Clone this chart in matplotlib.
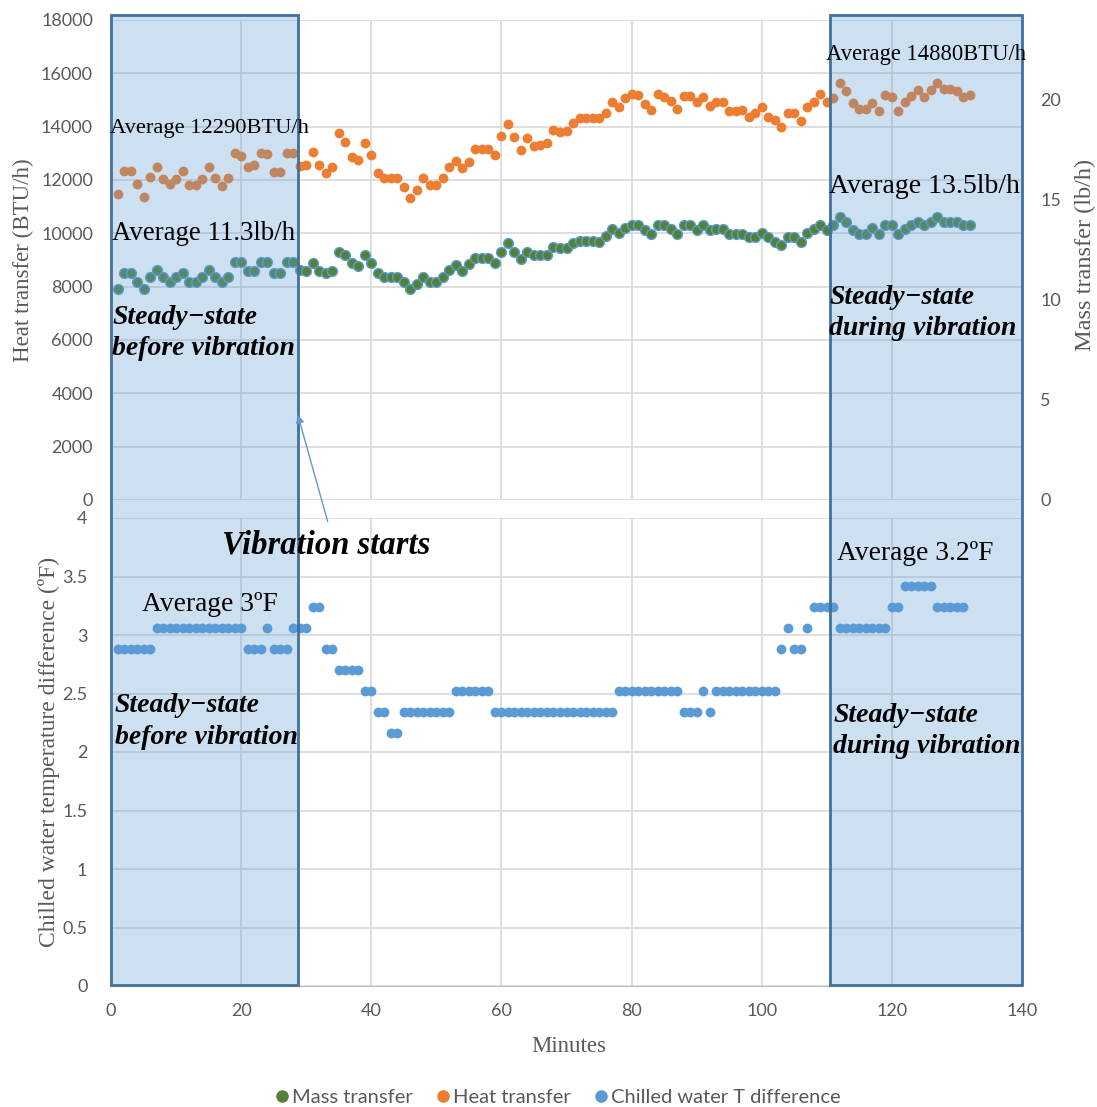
import numpy as np
import matplotlib
matplotlib.use('Agg')
import matplotlib.pyplot as plt
from matplotlib.patches import Rectangle, ConnectionPatch
from matplotlib.transforms import blended_transform_factory
from matplotlib.lines import Line2D

# Данные
heat = [11460, 12340, 12340, 11850, 11370, 12120, 12500, 12040, 11850, 12030,
        12350, 11800, 11800, 12050, 12500, 12060, 11780, 12060, 13020, 12900,
        12470, 12560, 13020, 12960, 12290, 12290, 13020, 13010, 12520, 12550,
        13060, 12550, 12250, 12500, 13750, 13440, 12870, 12750, 13400, 12940,
        12250, 12060, 12080, 12080, 11750, 11340, 11630, 12080, 11810, 11810,
        12080, 12470, 12710, 12440, 12660, 13150, 13150, 13150, 12950, 13650,
        14090, 13600, 13120, 13560, 13260, 13330, 13400, 13870, 13810, 13840,
        14130, 14310, 14310, 14310, 14310, 14510, 14940, 14720, 15080, 15220,
        15170, 14860, 14640, 15220, 15110, 14950, 14650, 15150, 15150, 14940,
        15120, 14790, 14940, 14940, 14580, 14580, 14640, 14380, 14530, 14720,
        14370, 14250, 13970, 14530, 14530, 14220, 14720, 14940, 15220, 14940,
        15060, 15620, 15350, 14900, 14650, 14650, 14870, 14600, 15190, 15120,
        14600, 14940, 15150, 15370, 15100, 15370, 15650, 15400, 15400, 15350,
        15100, 15190]

mass = [10.55, 11.33, 11.33, 10.92, 10.55, 11.17, 11.5, 11.17, 10.92, 11.17,
        11.37, 10.92, 10.92, 11.17, 11.5, 11.17, 10.92, 11.17, 11.92, 11.92,
        11.47, 11.47, 11.92, 11.92, 11.33, 11.33, 11.92, 11.92, 11.5, 11.47,
        11.83, 11.47, 11.33, 11.47, 12.42, 12.25, 11.83, 11.7, 12.25, 11.83,
        11.33, 11.13, 11.17, 11.17, 10.92, 10.53, 10.8, 11.17, 10.92, 10.92,
        11.17, 11.5, 11.75, 11.47, 11.78, 12.08, 12.08, 12.08, 11.83, 12.42,
        12.83, 12.42, 12.03, 12.42, 12.25, 12.25, 12.25, 12.63, 12.6, 12.6,
        12.87, 12.97, 12.97, 12.97, 12.92, 13.2, 13.53, 13.33, 13.58, 13.75,
        13.75, 13.5, 13.3, 13.75, 13.75, 13.53, 13.3, 13.75, 13.75, 13.5,
        13.75, 13.5, 13.53, 13.53, 13.3, 13.3, 13.3, 13.13, 13.13, 13.33,
        13.17, 12.92, 12.75, 13.17, 13.17, 12.92, 13.33, 13.53, 13.75, 13.5,
        13.75, 14.17, 13.92, 13.5, 13.3, 13.3, 13.58, 13.3, 13.75, 13.75,
        13.3, 13.55, 13.75, 13.92, 13.75, 13.92, 14.17, 13.92, 13.92, 13.88,
        13.75, 13.75]

chilled_dt = ([2.88] * 6 + [3.06] * 14 + [2.88] * 3 + [3.06] + [2.88] * 3 +
              [3.06] * 3 + [3.24] * 2 + [2.88] * 2 + [2.70] * 4 + [2.52] * 2 +
              [2.34] * 2 + [2.16] * 2 + [2.34] * 8 + [2.52] * 6 + [2.34] * 19 +
              [2.52] * 10 + [2.34] * 3 + [2.52] + [2.34] + [2.52] * 10 +
              [2.88] + [3.06] + [2.88] * 2 + [3.06] + [3.24] * 4 + [3.06] * 8 +
              [3.24] * 2 + [3.42] * 5 + [3.24] * 5)

t_heat = np.arange(1, len(heat) + 1)
t_dt = np.arange(1, len(chilled_dt) + 1)

# интервалы установившегося режима (минуты)
steady_before = (0, 28.7)
steady_during = (110.5, 140)
vib_start = 28.7

c_green = '#548235'
c_orange = '#ED7D31'
c_blue = '#5B9BD5'
c_text = '#595959'
c_grid = '#d9d9d9'
serif = 'Liberation Serif'
sans = 'Lato'

W, H = 1097, 1107
fig = plt.figure(figsize=(W / 100, H / 100), dpi=100)
ax1 = fig.add_axes([111 / W, 1 - 500 / H, 911 / W, 480 / H])
ax2 = fig.add_axes([111 / W, 1 - 986 / H, 911 / W, 468 / H])
ax1b = ax1.twinx()

ms = 50
ax1.scatter(t_heat, heat, s=ms, color=c_orange, zorder=3, linewidths=0)
ax1b.scatter(t_heat, mass, s=ms, color=c_green, edgecolors=c_blue,
             linewidths=1.0, zorder=3)
ax2.scatter(t_dt, chilled_dt, s=ms, color=c_blue, zorder=3, linewidths=0)

# оси
ax1.set_xlim(0, 140)
ax1.set_ylim(0, 18000)
ax1.set_yticks(np.arange(0, 18001, 2000))
ax1b.set_ylim(0, 24)
ax1b.set_yticks([0, 5, 10, 15, 20])
ax2.set_xlim(0, 140)
ax2.set_ylim(0, 4)
ax2.set_yticks(np.arange(0, 4.01, 0.5))
ax2.set_yticklabels(['0', '0.5', '1', '1.5', '2', '2.5', '3', '3.5', '4'])
ax2.set_xticks(np.arange(0, 141, 20))
ax1.set_xticks(np.arange(0, 141, 20))
ax1.tick_params(axis='x', labelbottom=False, length=0)

for a in (ax1, ax1b, ax2):
    for s in a.spines.values():
        s.set_visible(False)
    a.tick_params(length=0, colors=c_text, labelsize=13, pad=13)
    for lab in a.get_xticklabels() + a.get_yticklabels():
        lab.set_family(sans)
ax2.spines['bottom'].set_visible(True)
ax2.spines['bottom'].set_color('#bfbfbf')
ax2.tick_params(axis='y', pad=17)
ax2.tick_params(axis='x', pad=12)

for a in (ax1, ax2):
    a.grid(True, color=c_grid, linewidth=1.2)
    a.set_axisbelow(True)

ax1.set_ylabel('Heat transfer (BTU/h)', family=serif, fontsize=16.5, color=c_text)
ax1.yaxis.set_label_coords(-0.085, 0.5)
ax1b.set_ylabel('Mass transfer (lb/h)', family=serif, fontsize=17.5, color=c_text,
                rotation=90)
ax1b.yaxis.set_label_coords(1.058, 0.51)
ax2.set_ylabel('Chilled water temperature difference (ºF)', family=serif,
               fontsize=17, color=c_text)
ax2.yaxis.set_label_coords(-0.056, 0.5)
ax2.set_xlabel('Minutes', family=serif, fontsize=16.5, color=c_text)
ax2.xaxis.set_label_coords(0.502, -0.106)

# заштрихованные области поверх графиков
tr = blended_transform_factory(ax2.transData, fig.transFigure)
y0, y1 = 1 - 985 / H, 1 - 15 / H
for x0, x1 in (steady_before, steady_during):
    fig.add_artist(Rectangle((x0, y0), x1 - x0, y1 - y0, transform=tr,
                             facecolor=c_blue, alpha=0.3, edgecolor='none',
                             zorder=5))
    fig.add_artist(Rectangle((x0, y0), x1 - x0, y1 - y0, transform=tr,
                             facecolor='none', edgecolor='#41719c',
                             linewidth=2, zorder=6))

# подписи
def label(ax, x, y, s, size, **kw):
    fig.text(x, y, s, transform=ax.transData, family=serif, fontsize=size,
             va='center', ha='left', color='black', zorder=7, **kw)

label(ax1, -0.2, 13950, 'Average 12290BTU/h', 16.2)
label(ax1, 0.2, 10010, 'Average 11.3lb/h', 19.4)
label(ax1, 109.9, 16690, 'Average 14880BTU/h', 16.3)
label(ax1, 110.4, 11740, 'Average 13.5lb/h', 20)
label(ax1, 0.2, 6260, 'Steady−state\nbefore vibration', 20,
      weight='bold', style='italic', linespacing=1.33)
label(ax1, 110.4, 7010, 'Steady−state\nduring vibration', 20,
      weight='bold', style='italic', linespacing=1.33)
label(ax2, 17.0, 3.77, 'Vibration starts', 23.5, weight='bold', style='italic')
label(ax2, 4.7, 3.26, 'Average 3ºF', 19.8)
label(ax2, 111.6, 3.70, 'Average 3.2ºF', 19.8)
label(ax2, 0.6, 2.26, 'Steady−state\nbefore vibration', 20,
      weight='bold', style='italic', linespacing=1.33)
label(ax2, 111.0, 2.18, 'Steady−state\nduring vibration', 20,
      weight='bold', style='italic', linespacing=1.33)

arrow = ConnectionPatch(xyA=(33.3, 3.97), coordsA=ax2.transData,
                        xyB=(vib_start, 3200), coordsB=ax1.transData,
                        arrowstyle='-|>', mutation_scale=12, color=c_blue,
                        linewidth=1.0, zorder=7)
fig.add_artist(arrow)

# легенда
handles = [Line2D([], [], ls='none', marker='o', markersize=8, color=c_green),
           Line2D([], [], ls='none', marker='o', markersize=8, color=c_orange),
           Line2D([], [], ls='none', marker='o', markersize=8, color=c_blue)]
leg = fig.legend(handles, ['Mass transfer', 'Heat transfer', 'Chilled water T difference'],
                 loc='center', bbox_to_anchor=(0.507, 0.009), ncol=3, frameon=False,
                 handletextpad=0.0, columnspacing=1.0, handlelength=1.0,
                 prop={'family': sans, 'size': 14.5})
for t in leg.get_texts():
    t.set_color(c_text)

fig.savefig('out.png', dpi=100)
